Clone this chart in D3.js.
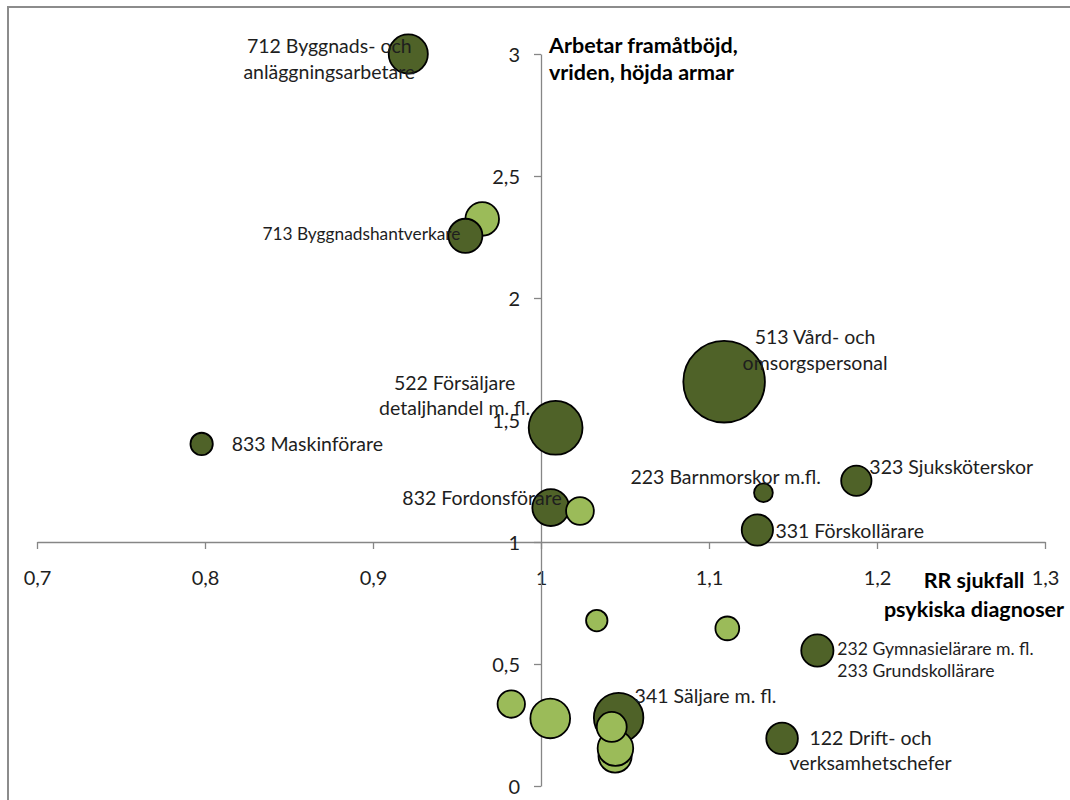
<!DOCTYPE html>
<html>
<head>
<meta charset="utf-8">
<script src="https://cdn.jsdelivr.net/npm/d3@7"></script>
<style>
  html, body { margin: 0; padding: 0; background: #fff; }
  svg { display: block; }
  text { font-family: Lato, "Noto Sans", sans-serif; }
</style>
</head>
<body>
<svg id="chart" width="1070" height="800"></svg>
<script>
// ---- Data ----
// RR sjukfall psykiska diagnoser (x), arbetar framåtböjd/vriden/höjda armar (y), bubble size, group
const bubbleIds = ["712d","713l","713d","833d","522d","832d","832l","513d","223d","323d","331d",
                   "l1","l2","341d","l5","l4","l3","l6","l7","232d","122d"];
const xValues = [0.921, 0.965, 0.955, 0.798, 1.0087, 1.0058, 1.0232, 1.109, 1.1324, 1.1877, 1.1288,
                 0.9823, 1.0055, 1.0462, 1.0441, 1.0443, 1.0421, 1.0332, 1.1109, 1.1645, 1.1435];
const yValues = [3.0, 2.324, 2.255, 1.402, 1.468, 1.141, 1.127, 1.657, 1.202, 1.251, 1.049,
                 0.336, 0.277, 0.280, 0.123, 0.155, 0.242, 0.678, 0.646, 0.555, 0.195];
const sizes   = [23.0, 17.0, 17.4, 7.5, 43.5, 20.3, 11.6, 100, 5.3, 13.8, 14.7,
                 11.3, 23.7, 36.8, 16.6, 19.0, 13.5, 6.9, 8.5, 15.6, 15.0];
const groups  = ["dark","light","dark","dark","dark","dark","light","dark","dark","dark","dark",
                 "light","light","dark","light","light","light","light","light","dark","dark"];

// Labels (attached to a bubble id), one array entry per text line
const labelFor   = ["712d","713d","833d","522d","832d","513d","223d","323d","331d","232d","341d","122d"];
const labelLines = [
  ["712 Byggnads- och", "anläggningsarbetare"],
  ["713 Byggnadshantverkare"],
  ["833 Maskinförare"],
  ["522 Försäljare", "detaljhandel m. fl."],
  ["832 Fordonsförare"],
  ["513 Vård- och", "omsorgspersonal"],
  ["223 Barnmorskor m.fl."],
  ["323 Sjuksköterskor"],
  ["331 Förskollärare"],
  ["232 Gymnasielärare m. fl.", "233 Grundskollärare"],
  ["341 Säljare m. fl."],
  ["122 Drift- och", "verksamhetschefer"]
];

const xTicks = [0.7, 0.8, 0.9, 1.0, 1.1, 1.2, 1.3];
const yTicks = [0, 0.5, 1, 1.5, 2, 2.5, 3];
const xTitle = ["RR sjukfall", "psykiska diagnoser"];
const yTitle = ["Arbetar framåtböjd,", "vriden, höjda armar"];

// ---- Layout / style (not data) ----
const LS = 19.5;
const labelLayout = {
  "712d": {dx: -79, dy: [-8, 18], anchor: "middle", size: LS},
  "713d": {dx: -5,  dy: [-1.5],  anchor: "end",    size: 17.3},
  "833d": {dx: 30,  dy: [0],     anchor: "start",  size: LS},
  "522d": {dx: -101,dy: [-45, -19.5], anchor: "middle", size: LS},
  "832d": {dx: 11,  dy: [-9.5],  anchor: "end",    size: LS},
  "513d": {dx: 91,  dy: [-45, -19], anchor: "middle", size: LS},
  "223d": {dx: 57.5,dy: [-16],   anchor: "end",    size: LS},
  "323d": {dx: 13,  dy: [-14],   anchor: "start",  size: LS},
  "331d": {dx: 18,  dy: [0.7],   anchor: "start",  size: LS},
  "232d": {dx: 20,  dy: [-1.7, 20.3], anchor: "start", size: 17.6},
  "341d": {dx: 16,  dy: [-21.6], anchor: "start",  size: LS},
  "122d": {dx: 88.5,dy: [-0.3, 24.7], anchor: "middle", size: LS}
};
const colors = {dark: "#4F6228", light: "#9BBB59"};
const axisColor = "#868686";
const textColor = "#1e1e1e";

const svg = d3.select("#chart");

// frame
svg.append("rect").attr("x", 8).attr("y", 7).attr("width", 1100).attr("height", 820)
  .attr("fill", "#fff").attr("stroke", "#8c8c8c").attr("stroke-width", 2);

const x = d3.scaleLinear().domain([0.7, 1.3]).range([37, 1045]);
const y = d3.scaleLinear().domain([0, 3]).range([786, 54]);
const r = d3.scaleSqrt().domain([0, 100]).range([0, 40.8]);
const fmt = d => String(+d.toFixed(1)).replace(".", ",");

// X axis at y = 1
const xAxisG = svg.append("g").attr("transform", `translate(0,${y(1)})`)
  .call(d3.axisBottom(x).tickValues(xTicks).tickSize(7).tickSizeOuter(0).tickFormat(fmt));
xAxisG.selectAll("path, line").attr("stroke", axisColor).attr("stroke-width", 1.3);
xAxisG.selectAll("text").attr("y", 36).attr("dy", "0.35em")
  .attr("font-size", 20).attr("font-family", "Lato, 'Noto Sans', sans-serif").attr("fill", textColor);

// Y axis at x = 1
const yAxisG = svg.append("g").attr("transform", `translate(${x(1)},0)`)
  .call(d3.axisLeft(y).tickValues(yTicks).tickSize(7).tickSizeOuter(0).tickFormat(fmt));
yAxisG.selectAll("path, line").attr("stroke", axisColor).attr("stroke-width", 1.3);
yAxisG.selectAll("text").attr("x", -21).attr("dy", "0.35em")
  .attr("font-size", 20).attr("font-family", "Lato, 'Noto Sans', sans-serif").attr("fill", textColor);

// bubbles
const bubbles = bubbleIds.map((id, i) => ({id, x: xValues[i], y: yValues[i], s: sizes[i], g: groups[i]}));
const byId = Object.fromEntries(bubbles.map(b => [b.id, b]));

svg.append("g").selectAll("circle").data(bubbles).join("circle")
  .attr("cx", d => x(d.x)).attr("cy", d => y(d.y)).attr("r", d => r(d.s))
  .attr("fill", d => colors[d.g]).attr("stroke", "#000").attr("stroke-width", 1.8);

// labels
const lg = svg.append("g");
labelFor.forEach((id, i) => {
  const b = byId[id], L = labelLayout[id];
  labelLines[i].forEach((line, j) => {
    lg.append("text")
      .attr("x", x(b.x) + L.dx).attr("y", y(b.y) + L.dy[j]).attr("dy", "0.35em")
      .attr("text-anchor", L.anchor).attr("font-size", L.size).attr("fill", textColor)
      .text(line);
  });
});

// axis titles
const yt = svg.append("text").attr("font-weight", "bold").attr("font-size", 21.5).attr("fill", "#000");
yTitle.forEach((t, j) => yt.append("tspan").attr("x", 549).attr("y", 45 + j * 27).attr("dy", "0.35em").text(t));
const xt = svg.append("text").attr("font-weight", "bold").attr("font-size", 21.5).attr("fill", "#000").attr("text-anchor", "middle");
xTitle.forEach((t, j) => xt.append("tspan").attr("x", 974).attr("y", 580 + j * 29).attr("dy", "0.35em").text(t));
</script>
</body>
</html>
